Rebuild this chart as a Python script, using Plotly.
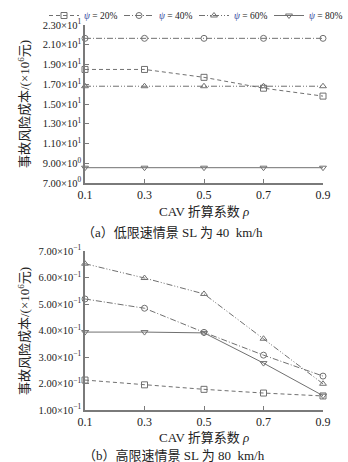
import plotly.graph_objects as go

rho = [0.1, 0.3, 0.5, 0.7, 0.9]
series_names = ["20%", "40%", "60%", "80%"]

# (a) SL = 40 km/h, values in 10^6 yuan
low_20 = [18.5, 18.5, 17.7, 16.6, 15.8]
low_40 = [21.65, 21.65, 21.65, 21.65, 21.65]
low_60 = [16.8, 16.8, 16.8, 16.8, 16.8]
low_80 = [8.55, 8.55, 8.55, 8.55, 8.55]

# (b) SL = 80 km/h
high_20 = [0.213, 0.195, 0.178, 0.164, 0.153]
high_40 = [0.519, 0.484, 0.393, 0.307, 0.228]
high_60 = [0.652, 0.598, 0.538, 0.369, 0.199]
high_80 = [0.394, 0.394, 0.391, 0.277, 0.154]

top_ticks = [7, 9, 11, 13, 15, 17, 19, 21, 23]
top_ticktext = ["7.00×10<sup>0</sup>", "9.00×10<sup>0</sup>", "1.10×10<sup>1</sup>",
                "1.30×10<sup>1</sup>", "1.50×10<sup>1</sup>", "1.70×10<sup>1</sup>",
                "1.90×10<sup>1</sup>", "2.10×10<sup>1</sup>", "2.30×10<sup>1</sup>"]
bot_ticks = [0.1, 0.2, 0.3, 0.4, 0.5, 0.6, 0.7]
bot_ticktext = ["1.00×10<sup>−1</sup>", "2.00×10<sup>−1</sup>", "3.00×10<sup>−1</sup>",
                "4.00×10<sup>−1</sup>", "5.00×10<sup>−1</sup>", "6.00×10<sup>−1</sup>",
                "7.00×10<sup>−1</sup>"]
x_ticks = [0.1, 0.3, 0.5, 0.7, 0.9]
x_ticktext = ["0.1", "0.3", "0.5", "0.7", "0.9"]

FONT = "Liberation Serif, Noto Sans CJK SC"
GRAY = "#707070"
styles = [
    dict(dash="4px,3px", symbol="square-open"),
    dict(dash="6px,2px,1px,2px", symbol="circle-open"),
    dict(dash="6px,2px,1px,2px,1px,2px", symbol="triangle-up-open"),
    dict(dash="solid", symbol="triangle-down-open"),
]

fig = go.Figure()
low = [low_20, low_40, low_60, low_80]
high = [high_20, high_40, high_60, high_80]
for i, name in enumerate(series_names):
    st = styles[i]
    label = "<span style='color:#2b3f9a'><i>ψ</i></span> = " + name
    fig.add_trace(go.Scatter(
        x=rho, y=low[i], mode="lines+markers", name=label,
        line=dict(color=GRAY, width=1, dash=st["dash"]),
        marker=dict(symbol=st["symbol"], size=6, color=GRAY, line=dict(width=1, color=GRAY)),
        cliponaxis=False, xaxis="x", yaxis="y", legendgroup=name))
    fig.add_trace(go.Scatter(
        x=rho, y=high[i], mode="lines+markers", name=label, showlegend=False,
        line=dict(color=GRAY, width=1, dash=st["dash"]),
        marker=dict(symbol=st["symbol"], size=6, color=GRAY, line=dict(width=1, color=GRAY)),
        cliponaxis=False, xaxis="x2", yaxis="y2", legendgroup=name))

W, H = 348, 462
def px(x): return x / W
def py(y): return 1 - y / H

axis_common = dict(showgrid=False, zeroline=False, showline=True, linecolor="#7a7a7a",
                   linewidth=1.5, ticks="inside", ticklen=4, tickcolor="#7a7a7a",
                   automargin=False)

def ann(text, x, y, size=13, angle=0):
    return dict(text=text, x=px(x), y=py(y), xref="paper", yref="paper", showarrow=False,
                textangle=angle, xanchor="center", yanchor="middle",
                font=dict(family=FONT, size=size, color="#222"))

xfont = dict(family=FONT, size=12, color="#222")
yfont = dict(family=FONT, size=10.5, color="#222")

fig.update_layout(
    width=W, height=H, margin=dict(l=0, r=0, t=0, b=0, autoexpand=False),
    paper_bgcolor="white", plot_bgcolor="white",
    font=dict(family=FONT, color="#222"),
    showlegend=True,
    legend=dict(orientation="h", x=px(44), y=py(1), xanchor="left", yanchor="top",
                font=dict(family=FONT, size=9.5, color="#222"), itemwidth=30,
                entrywidth=30, entrywidthmode="pixels",
                tracegroupgap=0, bgcolor="rgba(0,0,0,0)"),
    xaxis=dict(domain=[px(85), px(323)], range=[0.1, 0.9], tickvals=x_ticks,
               ticktext=x_ticktext, anchor="y", tickfont=xfont, **axis_common),
    yaxis=dict(domain=[py(183), py(25)], range=[7, 23], tickvals=top_ticks, ticktext=top_ticktext,
               anchor="x", tickfont=yfont, **axis_common),
    xaxis2=dict(domain=[px(85), px(323)], range=[0.1, 0.9], tickvals=x_ticks,
                ticktext=x_ticktext, anchor="y2", tickfont=xfont, **axis_common),
    yaxis2=dict(domain=[py(410), py(251)], range=[0.1, 0.7], tickvals=bot_ticks, ticktext=bot_ticktext,
                anchor="x2", tickfont=yfont, **axis_common),
    annotations=[
        ann("事故风险成本/(×10<sup>6</sup>元)", 24, 104, 13, -90),
        ann("事故风险成本/(×10<sup>6</sup>元)", 24, 331, 13, -90),
        ann("CAV 折算系数 <i>ρ</i>", 204, 211),
        ann("CAV 折算系数 <i>ρ</i>", 204, 437),
        ann("（a）低限速情景 SL 为 40  km/h", 172, 232),
        ann("（b）高限速情景 SL 为 80  km/h", 174, 455),
    ],
)

fig.write_html("out.html")
